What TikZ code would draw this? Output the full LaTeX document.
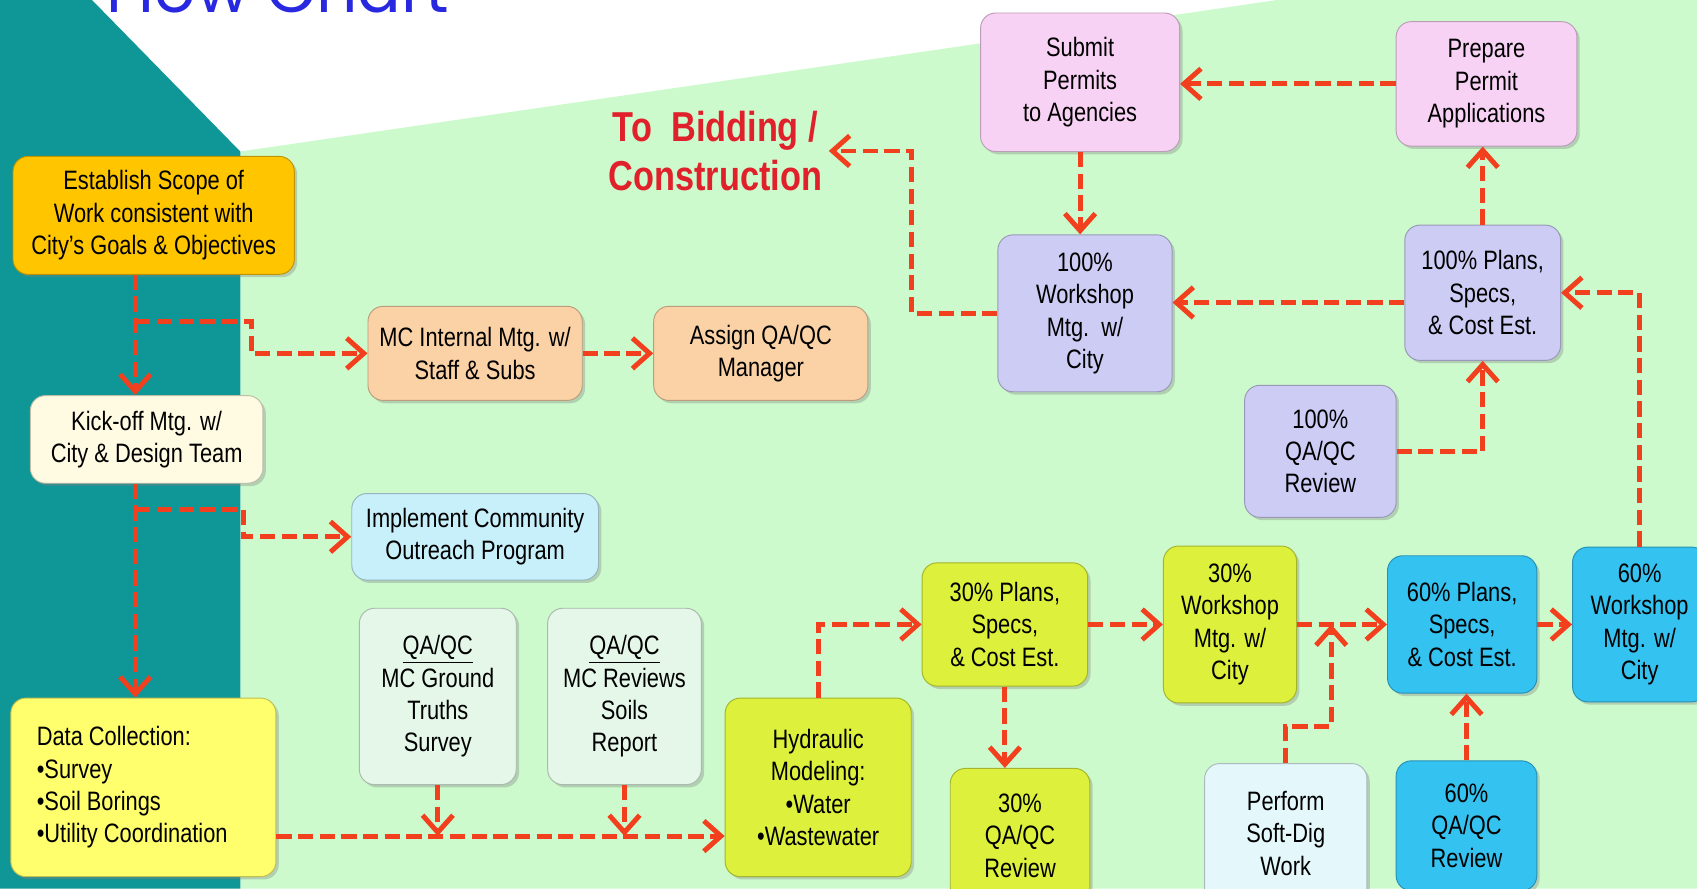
\documentclass[tikz,border=0pt]{standalone}
\usepackage{fontspec}
\setmainfont{Liberation Sans}[FakeStretch=0.82]
\newfontfamily\titlefont{Poppins}
\usepackage{tikz}
\usetikzlibrary{arrows.meta,calc,shadows}

\definecolor{bgteal}{HTML}{0F9696}
\definecolor{bggreen}{HTML}{CCFACC}
\definecolor{cgold}{HTML}{FFC600}
\definecolor{ccream}{HTML}{FFFBE2}
\definecolor{cpeach}{HTML}{FAD2A6}
\definecolor{cice}{HTML}{C8F0FA}
\definecolor{cyel}{HTML}{FFFF6E}
\definecolor{cmint}{HTML}{E4F7E8}
\definecolor{clime}{HTML}{DCF03C}
\definecolor{cpale}{HTML}{E4F8FC}
\definecolor{csky}{HTML}{34C2F0}
\definecolor{clav}{HTML}{CCCCF4}
\definecolor{cpink}{HTML}{F8D2F4}
\definecolor{cred}{HTML}{E0202A}
\definecolor{cline}{HTML}{F2401E}
\definecolor{ctitle}{HTML}{2828E0}

\begin{document}
\begin{tikzpicture}[x=0.02cm,y=-0.02cm,
  box/.style={rounded corners=0.28cm,draw=#1!75!black,line width=0.5pt,fill=#1,
    align=center,inner sep=2pt,font=\fontsize{14}{17}\selectfont,
    drop shadow={shadow xshift=1.5pt,shadow yshift=-1.5pt,opacity=0.35}},
  link/.style={draw=cline,line width=2.6pt,dash pattern=on 8pt off 3.4pt,
    -{Straight Barb[length=9pt,width=16pt]}}]
\useasboundingbox (0,0) rectangle (1568,821);
% slide background
\fill[white] (0,0) rectangle (1568,821);
\fill[bggreen] (222,140) -- (1180,0) -- (1568,0) -- (1568,821) -- (222,821) -- cycle;
\fill[bgteal] (0,0) -- (85,0) -- (222,140) -- (222,821) -- (0,821) -- cycle;

\path % every box sits at its pixel centre
  node[anchor=base west,text=ctitle,font=\titlefont\fontsize{34}{34}\selectfont] (0) at (92,12) {Flow Chart}
  node[box=cgold,minimum width=5.2cm,minimum height=2.18cm] (1) at (142,199) {Establish Scope of\\Work consistent with\\City's Goals \& Objectives}
  node[box=ccream,minimum width=4.3cm,minimum height=1.62cm] (2) at (135.5,406) {Kick-off Mtg. w/\\City \& Design Team}
  node[box=cpeach,minimum width=3.96cm,minimum height=1.74cm] (3) at (439,326.5) {MC Internal Mtg. w/\\Staff \& Subs}
  node[box=cpeach,minimum width=3.96cm,minimum height=1.74cm] (4) at (703,326.5) {Assign QA/QC\\Manager}
  node[box=cice,minimum width=4.56cm,minimum height=1.6cm] (5) at (439,496) {Implement Community\\Outreach Program}
  node[box=cyel,align=flush left,text width=3.94cm,minimum width=4.9cm,minimum height=3.3cm] (6) at (132.5,727.5) {Data Collection:\\•Survey\\•Soil Borings\\•Utility Coordination}
  node[box=cmint,minimum width=2.9cm,minimum height=3.26cm] (7) at (404.5,643.5) {\underline{QA/QC}\\MC Ground\\Truths\\Survey}
  node[box=cmint,minimum width=2.84cm,minimum height=3.26cm] (8) at (577,643.5) {\underline{QA/QC}\\MC Reviews\\Soils\\Report}
  node[box=clime,minimum width=3.44cm,minimum height=3.3cm] (9) at (756,727.5) {Hydraulic\\Modeling:\\•Water\\•Wastewater}
  node[box=clime,minimum width=3.06cm,minimum height=2.28cm] (10) at (928.5,577) {30\% Plans,\\Specs,\\\& Cost Est.}
  node[box=clime,minimum width=2.58cm,minimum height=2.48cm] (11) at (942.5,772) {30\%\\QA/QC\\Review}
  node[box=clime,minimum width=2.46cm,minimum height=2.9cm] (12) at (1136.5,577) {30\%\\Workshop\\Mtg. w/\\City}
  node[box=cpale,minimum width=3.0cm,minimum height=2.58cm] (13) at (1188,770) {Perform\\Soft-Dig\\Work}
  node[box=csky,minimum width=2.76cm,minimum height=2.54cm] (14) at (1351,577) {60\% Plans,\\Specs,\\\& Cost Est.}
  node[box=csky,minimum width=2.6cm,minimum height=2.4cm] (15) at (1355,763) {60\%\\QA/QC\\Review}
  node[box=csky,minimum width=2.48cm,minimum height=2.86cm] (16) at (1515,577) {60\%\\Workshop\\Mtg. w/\\City}
  node[box=clav,minimum width=2.88cm,minimum height=2.5cm] (17) at (1370,270.5) {100\% Plans,\\Specs,\\\& Cost Est.}
  node[box=clav,minimum width=2.8cm,minimum height=2.44cm] (18) at (1220,417) {100\%\\QA/QC\\Review}
  node[box=clav,minimum width=3.22cm,minimum height=2.9cm] (19) at (1002.5,289.5) {100\%\\Workshop\\Mtg.\ \ w/\\City}
  node[box=cpink,minimum width=3.68cm,minimum height=2.56cm] (20) at (998,76) {Submit\\Permits\\to Agencies}
  node[box=cpink,minimum width=3.34cm,minimum height=2.3cm] (21) at (1373.5,77.5) {Prepare\\Permit\\Applications}
  node[text=cred,align=center,font=\bfseries\fontsize{22}{25.5}\selectfont] (22) at (661,139.5) {To\ \ Bidding /\\Construction};

\coordinate (b1) at ($(1.south)+(-17,43)$);
\coordinate (b2) at ($(2.south)+(-10.5,24)$);
\coordinate (d) at ($(6.east)+(0,45)$);
\coordinate (j) at ($(12.east)!0.38!(14.west)$);
\coordinate (q) at ($(17.west)+(0,9)$);

\draw[link] ($(1.south)+(-17,0)$) -- ($(2.north)+(-10.5,0)$);
\draw[link] (b1) -- ++(107,0) |- (3.west);
\draw[link] (3) -- (4);
\draw[link] ($(2.south)+(-10.5,0)$) -- ($(6.north)+(-7.5,0)$);
\draw[link] (b2) -- ++(100,0) |- (5.west);
\draw[link] (d) -- (d -| 9.west);
\draw[link] (7.south) -- (7.south |- d);
\draw[link] (8.south) -- (8.south |- d);
\draw[link] (9.north) |- (10.west);
\draw[link] (10) -- (12);
\draw[link] (10.south) -- (10.south |- 11.north);
\draw[link] (12) -- (14);
\draw[link] (13.north) -- ++(0,-34) -| (j);
\draw[link] (15.north) -- (15.north |- 14.south);
\draw[link] (14) -- (16);
\draw[link] (16.north) |- (17.east);
\draw[link] (18.east) -| (17.south);
\draw[link] (17.north) -- (17.north |- 21.south);
\draw[link] (21.west) -- (21.west -| 20.east);
\draw[link] (20.south) -- (20.south |- 19.north);
\draw[link] (q) -- (q -| 19.east);
\draw[link] (19.west) -- ++(-79,0) |- (22.east);
\end{tikzpicture}
\end{document}
